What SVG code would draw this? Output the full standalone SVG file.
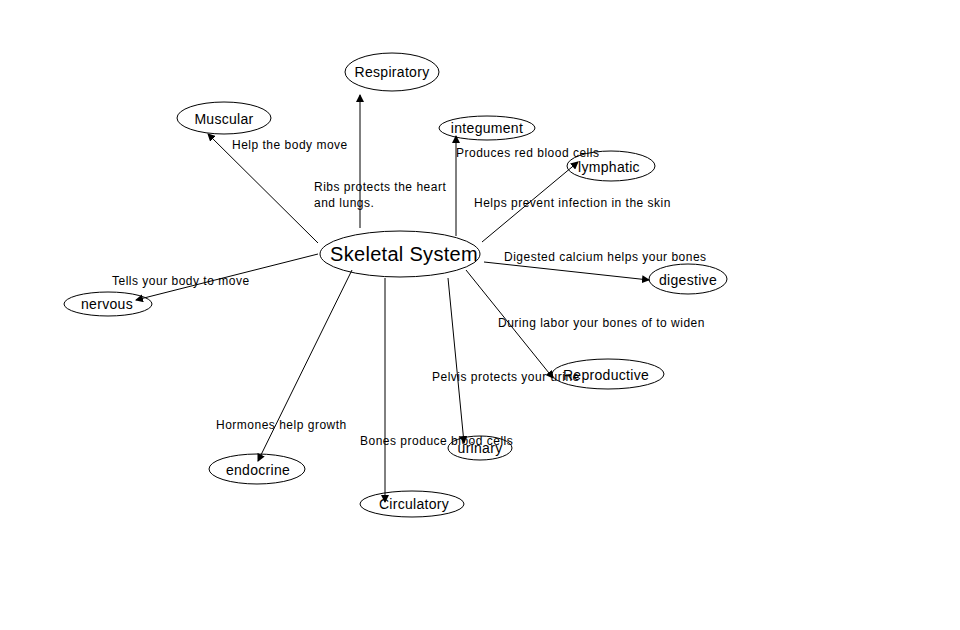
<svg xmlns="http://www.w3.org/2000/svg" width="960" height="630" viewBox="0 0 960 630">
<style>
ellipse{fill:none;stroke:#000;stroke-width:1}
.n{font-family:"Liberation Sans",Arial,sans-serif;font-size:14px;text-anchor:middle;letter-spacing:0.3px}
.l{font-family:"Liberation Sans",Arial,sans-serif;font-size:12px;letter-spacing:0.5px}
line{stroke:#000;stroke-width:1;marker-end:url(#a)}
</style>
<defs><marker id="a" markerWidth="8" markerHeight="8" refX="7" refY="4" orient="auto" markerUnits="userSpaceOnUse"><path d="M0,0L8,4L0,8z" fill="#000"/></marker></defs>
<rect width="960" height="630" fill="#fff"/>
<g id="connectors">
<line x1="360" y1="228" x2="360" y2="95"/>
<line x1="318" y1="243" x2="208" y2="134"/>
<line x1="456" y1="236" x2="456" y2="136"/>
<line x1="482" y1="242" x2="578" y2="162"/>
<line x1="484" y1="262" x2="649" y2="280"/>
<line x1="466" y1="270" x2="553" y2="378"/>
<line x1="448" y1="278" x2="464" y2="443"/>
<line x1="385" y1="278" x2="385" y2="502"/>
<line x1="352" y1="270" x2="258" y2="461"/>
<line x1="318" y1="254" x2="136" y2="300"/>
</g>
<g id="labels">
<text class="l" x="232" y="149">Help the body move</text>
<text class="l" x="314" y="191">Ribs protects the heart</text>
<text class="l" x="314" y="207">and lungs.</text>
<text class="l" x="456" y="157">Produces red blood cells</text>
<text class="l" x="474" y="207">Helps prevent infection in the skin</text>
<text class="l" x="504" y="261">Digested calcium helps your bones</text>
<text class="l" x="498" y="327">During labor your bones of to widen</text>
<text class="l" x="432" y="381">Pelvis protects your urine</text>
<text class="l" x="360" y="445">Bones produce blood cells</text>
<text class="l" x="216" y="429">Hormones help growth</text>
<text class="l" x="112" y="285">Tells your body to move</text>
</g>
<g id="skeletal"><ellipse cx="400" cy="254" rx="80" ry="23"/><text class="n" x="404" y="261" style="font-size:20px">Skeletal System</text></g>
<g id="respiratory"><ellipse cx="392" cy="72" rx="47" ry="19"/><text class="n" x="392" y="77">Respiratory</text></g>
<g id="muscular"><ellipse cx="224" cy="118" rx="47" ry="16"/><text class="n" x="224" y="124">Muscular</text></g>
<g id="integument"><ellipse cx="487" cy="128" rx="48" ry="12"/><text class="n" x="487" y="133">integument</text></g>
<g id="lymphatic"><ellipse cx="611" cy="166" rx="44" ry="15"/><text class="n" x="609" y="172">lymphatic</text></g>
<g id="digestive"><ellipse cx="688" cy="279" rx="39" ry="15"/><text class="n" x="688" y="285">digestive</text></g>
<g id="reproductive"><ellipse cx="608" cy="374" rx="56" ry="15"/><text class="n" x="606" y="380">Reproductive</text></g>
<g id="urinary"><ellipse cx="480" cy="448" rx="32" ry="12"/><text class="n" x="480" y="453">urinary</text></g>
<g id="circulatory"><ellipse cx="412" cy="504" rx="52" ry="13"/><text class="n" x="414" y="509">Circulatory</text></g>
<g id="endocrine"><ellipse cx="257" cy="469" rx="48" ry="15"/><text class="n" x="258" y="475">endocrine</text></g>
<g id="nervous"><ellipse cx="108" cy="304" rx="44" ry="12"/><text class="n" x="107" y="309">nervous</text></g>
</svg>
